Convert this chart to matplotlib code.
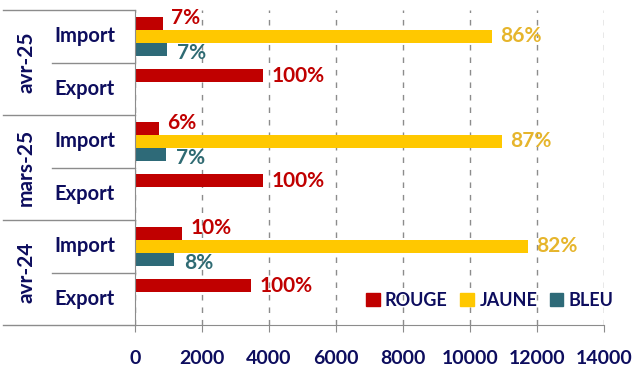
import matplotlib.pyplot as plt
from matplotlib.patches import Patch
import numpy as np

plt.rcParams['font.family'] = ['Lato', 'DejaVu Sans']
plt.rcParams['font.weight'] = 'bold'

# Données
periodes = ['avr-25', 'mars-25', 'avr-24']
flux = ['Import', 'Export']
rouge = [835, 3820, 716, 3820, 1403, 3463]
jaune = [10657, 0, 10955, 0, 11731, 0]
bleu = [955, 0, 925, 0, 1164, 0]
rouge_pct = ['7%', '100%', '6%', '100%', '10%', '100%']
jaune_pct = ['86%', '', '87%', '', '82%', '']
bleu_pct = ['7%', '', '7%', '', '8%', '']
xticks = [0, 2000, 4000, 6000, 8000, 10000, 12000, 14000]

c_rouge = '#C00000'
c_jaune = '#FFC800'
c_bleu = '#2E6A78'
c_txt_jaune = '#E6B52C'
c_txt_bleu = '#2F6B73'
navy = '#0D0D5E'
gris = '#8C8C8C'

W, H = 635, 370
fig = plt.figure(figsize=(W / 100, H / 100), dpi=100)
ax = fig.add_axes([135 / W, 45 / H, 469 / W, 315 / H])

y = np.arange(len(rouge))
h = 0.245
off = 0.245
ax.barh(y - off, rouge, height=h, color=c_rouge)
ax.barh(y, jaune, height=h, color=c_jaune)
ax.barh(y + off, bleu, height=h, color=c_bleu)

# Etiquettes de pourcentage
for i in range(len(y)):
    dy_r = 4 if flux[i % 2] == 'Import' else 0
    ax.annotate(rouge_pct[i], (rouge[i], y[i] - off), xytext=(6, dy_r),
                textcoords='offset points', va='center', ha='left',
                color=c_rouge, fontsize=15)
    if jaune_pct[i]:
        ax.annotate(jaune_pct[i], (jaune[i], y[i]), xytext=(6, 0),
                    textcoords='offset points', va='center', ha='left',
                    color=c_txt_jaune, fontsize=15)
    if bleu_pct[i]:
        ax.annotate(bleu_pct[i], (bleu[i], y[i] + off), xytext=(7, -3),
                    textcoords='offset points', va='center', ha='left',
                    color=c_txt_bleu, fontsize=15)

ax.set_xlim(0, 14000)
ax.set_ylim(5.5, -0.5)
ax.set_xticks(xticks)
ax.set_xticklabels([str(t) for t in xticks], color=navy, fontsize=14)
ax.tick_params(axis='x', length=5, color=gris, pad=13)
ax.set_yticks([])
ax.xaxis.grid(True, linestyle=(0, (4, 5)), color=gris, linewidth=1)
ax.set_axisbelow(True)
for s in ['top', 'right']:
    ax.spines[s].set_visible(False)
for s in ['left', 'bottom']:
    ax.spines[s].set_color(gris)

# Axe des catégories à deux niveaux
tr = ax.get_yaxis_transform()
for i in range(len(y)):
    ax.text(-0.107, y[i], flux[i % 2], transform=tr, ha='center', va='center',
            color=navy, fontsize=14.5)
for k, p in enumerate(periodes):
    ax.text(-0.232, 2 * k + 0.5, p, transform=tr, ha='center', va='center',
            rotation=90, color=navy, fontsize=15)
for yb in [-0.5, 1.5, 3.5, 5.5]:
    ax.plot([-0.281, 0], [yb, yb], transform=tr, color=gris, lw=1, clip_on=False)
for yb in [0.5, 2.5, 4.5]:
    ax.plot([-0.177, 0], [yb, yb], transform=tr, color=gris, lw=1, clip_on=False)

handles = [Patch(color=c_rouge, label='ROUGE'),
           Patch(color=c_jaune, label='JAUNE'),
           Patch(color=c_bleu, label='BLEU')]
leg = fig.legend(handles=handles, loc='center left', ncol=3, frameon=False,
                 bbox_to_anchor=(366 / W, 70 / H), handlelength=0.75,
                 handleheight=0.75, handletextpad=0.3, columnspacing=0.7,
                 fontsize=13, borderpad=0, borderaxespad=0)
for t in leg.get_texts():
    t.set_color(navy)

fig.savefig('out.png', dpi=100)
